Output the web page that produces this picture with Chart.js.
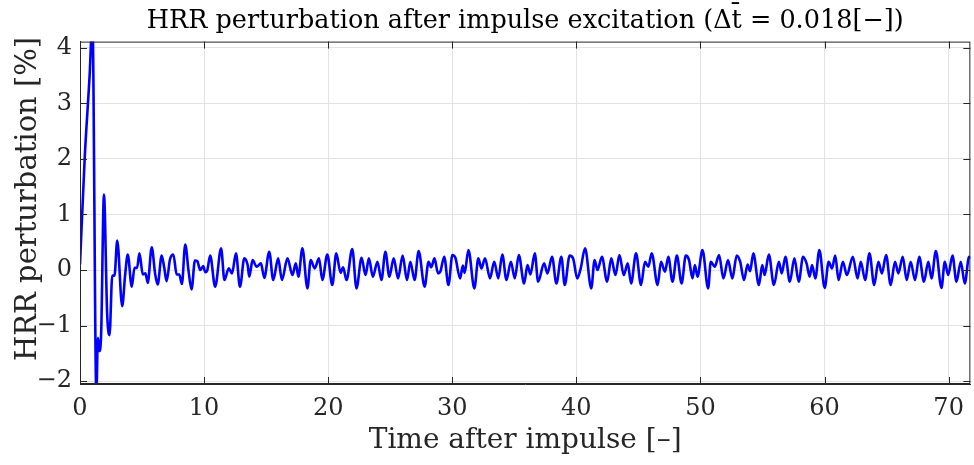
<!DOCTYPE html>
<html>
<head>
<meta charset="utf-8">
<script src="https://cdn.jsdelivr.net/npm/chart.js@4"></script>
<style>
  html, body { margin: 0; padding: 0; background: #fff; }
  #wrap { width: 974px; height: 465px; }
</style>
</head>
<body>
<div id="wrap"><canvas id="hrrChart" width="974" height="465"></canvas></div>
<script>
// tick positions
const xTicks = [0, 10, 20, 30, 40, 50, 60, 70];
const yTicks = [-2, -1, 0, 1, 2, 3, 4];

// time after impulse [-] (read at peaks / troughs of the curve)
const timeVals = [
  0, 0.38, 0.78, 1.0, 1.32, 1.44, 1.58, 1.71, 1.93, 2.19, 2.38, 2.6, 2.78, 3.0, 3.4, 3.64, 3.85,
  4.17, 4.39, 4.6, 4.79, 5.06, 5.27, 5.46, 5.78, 6.05, 6.26, 6.58, 6.79, 6.98, 7.25, 7.52, 7.79,
  8.0, 8.21, 8.48, 8.75, 8.99, 9.26, 9.45, 9.69, 9.93, 10.1, 10.25, 10.49, 10.89, 11.37,
  11.64, 11.99, 12.25, 12.57, 12.89, 13.24, 13.51, 13.64, 13.91, 14.23, 14.58, 14.85, 15.25,
  15.57, 15.97, 16.27, 16.72, 17.12, 17.39, 17.6, 17.92, 18.33, 18.59, 18.91, 19.26, 19.53,
  19.93, 20.33, 20.65, 21.0, 21.2, 21.48, 21.94, 22.28, 22.69, 23.01, 23.28, 23.6, 23.97,
  24.29, 24.61, 24.93, 25.28, 25.63, 26.0, 26.35, 26.62, 26.96, 27.29, 27.77, 28.09, 28.3,
  28.57, 28.85, 29.05, 29.35, 29.69, 30.01, 30.25, 30.63, 30.85, 31.0, 31.3, 31.78, 32.1,
  32.35, 32.64, 33.04, 33.38, 33.71, 34.03, 34.37, 34.72, 35.04, 35.36, 35.79, 36.06, 36.3,
  36.65, 36.92, 37.4, 37.67, 38.04, 38.39, 38.79, 39.06, 39.46, 39.75, 40.07, 40.35, 40.7,
  41.2, 41.47, 41.7, 42.06, 42.48, 42.81, 43.15, 43.47, 43.82, 44.14, 44.41, 44.81, 45.21,
  45.53, 45.8, 46.07, 46.55, 46.82, 47.14, 47.41, 47.75, 48.1, 48.48, 48.82, 49.08, 49.36,
  49.55, 49.76, 50.16, 50.62, 50.83, 51.15, 51.5, 51.85, 52.22, 52.57, 52.92, 53.2, 53.51,
  53.8, 54.0, 54.26, 54.71, 54.98, 55.17, 55.51, 55.92, 56.32, 56.55, 56.85, 57.2, 57.57,
  57.92, 58.27, 58.55, 58.8, 58.99, 59.26, 59.58, 60.01, 60.33, 60.6, 60.86, 61.13, 61.48,
  61.8, 62.28, 62.66, 62.92, 63.27, 63.62, 64.0, 64.34, 64.62, 64.96, 65.33, 65.68, 65.95,
  66.3, 66.62, 66.94, 67.29, 67.63, 68.01, 68.36, 68.62, 68.97, 69.42, 69.69, 69.96, 70.31,
  70.63, 70.98, 71.3, 71.65, 71.75
];

// HRR perturbation [%]
const hrrVals = [
  0.1, 2.02, 3.52, 4.5, -2.25, -1.22, -1.46, -1.1, 1.36, -0.8, -1.17, -0.1, -0.1, 0.53, -0.65, -0.08, 0.28,
  -0.3, 0.04, 0.04, 0.3, -0.08, -0.06, -0.23, 0.41, -0.06, -0.26, 0.26, 0.04, -0.2, 0.19, 0.28, -0.08,
  -0.08, -0.25, 0.46, -0.02, -0.35, 0.17, 0.16, 0.0, 0.07, -0.04, -0.01, 0.26, -0.3, 0.39,
  -0.18, 0.03, -0.06, 0.30, -0.30, 0.21, 0.09, -0.12, 0.18, 0.06, 0.12, -0.14, 0.33,
  -0.18, 0.21, -0.18, 0.21, -0.09, 0.12, -0.12, 0.39, -0.33, 0.18, 0.03, 0.21, -0.18,
  0.28, -0.27, 0.30, -0.05, 0.05, -0.18, 0.38, -0.33, 0.22, -0.09, 0.21, -0.12, 0.15,
  -0.18, 0.33, -0.12, 0.21, -0.15, 0.26, -0.18, 0.15, -0.18, 0.34, -0.30, 0.15, 0.05,
  0.21, -0.06, -0.02, 0.24, -0.27, 0.27, 0.22, -0.15, 0.08, -0.05, 0.36, -0.33, 0.21,
  0.03, 0.21, -0.15, 0.15, -0.15, 0.28, -0.18, 0.15, -0.15, 0.27, -0.24, 0.09, -0.08,
  0.30, -0.21, 0.12, -0.06, 0.24, -0.24, 0.24, -0.27, 0.26, 0.2, -0.15, 0.03, 0.39,
  -0.33, 0.18, 0.0, 0.24, -0.21, 0.21, -0.09, 0.27, -0.09, 0.12, -0.24, 0.30, -0.27,
  0.15, 0.06, 0.30, -0.27, 0.15, -0.03, 0.24, -0.21, 0.26, -0.24, 0.26, 0.18, -0.15,
  0.09, -0.12, 0.36, -0.33, 0.15, 0.06, 0.27, -0.15, 0.18, -0.15, 0.26, 0.15, -0.18,
  0.1, -0.02, 0.30, -0.27, 0.09, -0.09, 0.28, -0.27, 0.15, -0.06, 0.24, -0.21, 0.21,
  -0.21, 0.24, 0.12, -0.12, 0.09, -0.15, 0.36, -0.32, 0.15, 0.03, 0.26, -0.18, 0.15,
  -0.09, 0.24, -0.15, 0.15, -0.18, 0.30, -0.27, 0.15, -0.06, 0.27, -0.27, 0.15, -0.06,
  0.24, -0.18, 0.15, -0.18, 0.24, -0.21, 0.15, -0.15, 0.34, -0.32, 0.15, -0.09, 0.26,
  -0.21, 0.15, -0.24, 0.24, 0.2
];

const axisColor = '#262626';
const gridColor = '#e3e3e3';

// MATLAB-like box with inward ticks on all four sides
const boxPlugin = {
  id: 'boxPlugin',
  afterDraw(chart) {
    const { ctx, chartArea: a, scales } = chart;
    const len = 7;
    ctx.save();
    ctx.strokeStyle = axisColor;
    ctx.lineWidth = 1;
    ctx.strokeRect(a.left + 0.5, a.top + 0.5, a.right - a.left - 1, a.bottom - a.top - 1);
    ctx.beginPath();
    xTicks.forEach(v => {
      const px = Math.round(scales.x.getPixelForValue(v)) + 0.5;
      ctx.moveTo(px, a.bottom); ctx.lineTo(px, a.bottom - len);
      ctx.moveTo(px, a.top); ctx.lineTo(px, a.top + len);
    });
    yTicks.forEach(v => {
      const py = Math.round(scales.y.getPixelForValue(v)) + 0.5;
      ctx.moveTo(a.left, py); ctx.lineTo(a.left + len, py);
      ctx.moveTo(a.right, py); ctx.lineTo(a.right - len, py);
    });
    ctx.stroke();
    ctx.restore();
  }
};

new Chart(document.getElementById('hrrChart'), {
  type: 'line',
  data: {
    datasets: [{
      data: timeVals.map((t, i) => ({ x: t, y: hrrVals[i] })),
      borderColor: '#0000ff',
      borderWidth: 2.6,
      pointRadius: 0,
      fill: false,
      cubicInterpolationMode: 'monotone'
    }]
  },
  options: {
    responsive: false,
    animation: false,
    layout: { padding: { left: 0, right: 1, top: 0, bottom: 0 } },
    plugins: {
      legend: { display: false },
      tooltip: { enabled: false },
      title: {
        display: true,
        fullSize: false,
        text: 'HRR perturbation after impulse excitation (Δt\u0304 = 0.018[\u2212])',
        color: '#000',
        font: { family: 'DejaVu Serif', size: 25.5, weight: 'normal', lineHeight: 1.2 },
        padding: { top: 6, bottom: 5 }
      }
    },
    scales: {
      x: {
        type: 'linear',
        min: 0,
        max: 71.75,
        afterBuildTicks: s => { s.ticks = xTicks.map(v => ({ value: v })); },
        afterFit: s => { s.height = 81; },
        grid: { color: gridColor, drawTicks: false },
        border: { color: axisColor },
        ticks: {
          color: '#262626',
          padding: 10,
          maxRotation: 0,
          font: { family: 'DejaVu Serif', size: 24 }
        },
        title: {
          display: true,
          text: 'Time after impulse [\u2013]',
          color: '#262626',
          font: { family: 'DejaVu Serif', size: 28, lineHeight: 1.2 },
          padding: { top: 0, bottom: 7 }
        }
      },
      y: {
        min: -2.05,
        max: 4.11,
        afterBuildTicks: s => { s.ticks = yTicks.map(v => ({ value: v })); },
        afterFit: s => { s.width = 80; },
        grid: { color: gridColor, drawTicks: false },
        border: { color: axisColor },
        ticks: {
          color: '#262626',
          padding: 8,
          font: { family: 'DejaVu Serif', size: 24 },
          callback: v => (v < 0 ? '\u2212' + Math.abs(v) : '' + v)
        },
        title: {
          display: true,
          // leading spaces nudge the label upward like the original
          text: '\u00a0\u00a0\u00a0HRR perturbation [%]',
          color: '#262626',
          font: { family: 'DejaVu Serif', size: 29, lineHeight: 1.2 },
          padding: { top: 11, bottom: 0 }
        }
      }
    }
  },
  plugins: [boxPlugin]
});
</script>
</body>
</html>
